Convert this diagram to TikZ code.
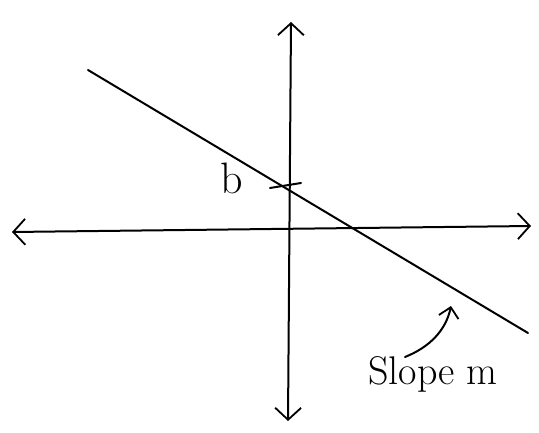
\documentclass[tikz,border=0pt]{standalone}
\usetikzlibrary{arrows.meta}
\begin{document}
\begin{tikzpicture}[x=1pt,y=-1pt,
  ink/.style={line width=2pt,line cap=round,line join=round,black},
  axisarrow/.style={ink,{Straight Barb[length=12pt,width=26pt,line width=1.8pt]}-{Straight Barb[length=12pt,width=26pt,line width=1.8pt]}},
  pointer/.style={ink,-{Straight Barb[length=10pt,width=20pt,line width=1.8pt]}},
  hand/.style={font=\fontsize{40}{44}\selectfont,inner sep=0pt}]
\useasboundingbox (0,0) rectangle (539,433);
% axes
\coordinate (xl) at (12,232);
\coordinate (xr) at (531,226);
\coordinate (yt) at (291,22);
\coordinate (yb) at (288,421);
\draw[axisarrow] (xl) -- (xr);
\draw[axisarrow] (yb) -- (yt);
% line
\coordinate (la) at (88,70);
\coordinate (lb) at (528,333);
\draw[ink] (la) -- (lb);
% intercept tick
\coordinate (ta) at (270,188);
\coordinate (tb) at (301,183);
\draw[ink] (ta) -- (tb);
\node[hand,font=\fontsize{44}{48}\selectfont] (blabel) at (232,178) {b};
% slope label
\node[hand] (slopelabel) at (433,374) {Slope m};
\coordinate (ptail) at (405,357);
\coordinate (phead) at (451,306);
\draw[pointer] (ptail) .. controls (430,347) and (446,330) .. (phead);
\end{tikzpicture}
\end{document}
